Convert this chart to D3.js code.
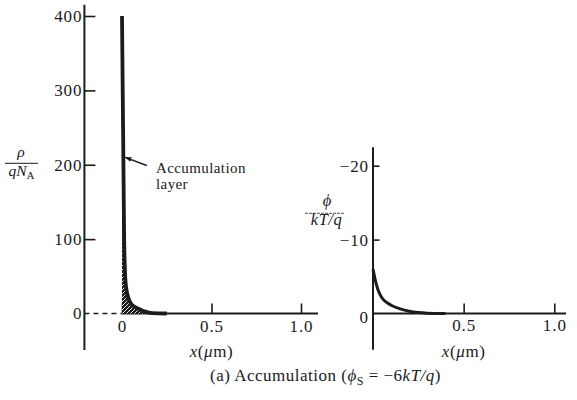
<!DOCTYPE html>
<html>
<head>
<meta charset="utf-8">
<script src="https://cdn.jsdelivr.net/npm/d3@7"></script>
<style>
  html, body { margin: 0; padding: 0; background: #fff; }
  svg { display: block; font-family: "Liberation Serif", "Times New Roman", serif; }
  .tick text { font-family: "Liberation Serif", "Times New Roman", serif; }
</style>
</head>
<body>
<svg id="chart" width="577" height="400"></svg>
<script>
// ---- data ----
// Left panel: normalized hole density p/(qN_A) vs depth x (µm)
const densityX = [0, 0.004, 0.008, 0.012, 0.016, 0.02, 0.025, 0.03, 0.04, 0.05, 0.07, 0.1, 0.13, 0.17, 0.25];
const densityY = [400, 300, 200, 100, 60, 42, 32, 26, 18, 13.5, 9, 5.5, 2.5, 0.5, 0];
// Right panel: normalized potential phi/(kT/q) vs depth x (µm)
const potentialX = [0, 0.01, 0.02, 0.03, 0.05, 0.075, 0.1, 0.15, 0.2, 0.25, 0.3, 0.4];
const potentialY = [-6, -4.8, -3.8, -3.05, -2.1, -1.5, -1.12, -0.62, -0.3, -0.13, -0.05, 0];
// tick values / labels
const leftYTicks = [0, 100, 200, 300, 400];
const leftXTicks = [0, 0.5, 1.0];
const leftXLabels = ["0", "0.5", "1.0"];
const rightYTicks = [0, -10, -20];
const rightXTicks = [0, 0.5, 1.0];
const rightXLabels = ["", "0.5", "1.0"];

const ink = "#1b1b1b";
const svg = d3.select("#chart");

// hatch pattern for the accumulation charge
const defs = svg.append("defs");
const pat = defs.append("pattern").attr("id", "hatch")
  .attr("patternUnits", "userSpaceOnUse").attr("width", 4).attr("height", 4);
pat.append("rect").attr("width", 4).attr("height", 4).attr("fill", ink);
pat.append("path").attr("d", "M-1,1 l2,-2 M0,4 l4,-4 M3,5 l2,-2")
  .attr("stroke", "#fff").attr("stroke-width", 0.9);
defs.append("marker").attr("id", "arrow").attr("viewBox", "0 0 10 10")
  .attr("refX", 9).attr("refY", 5).attr("markerWidth", 7).attr("markerHeight", 7)
  .attr("markerUnits", "userSpaceOnUse").attr("orient", "auto")
  .append("path").attr("d", "M0,1.5 L10,5 L0,8.5 Z").attr("fill", ink);

// ---- scales ----
const xL = d3.scaleLinear([0, 1], [122, 301]);
const yL = d3.scaleLinear([0, 400], [313.5, 16]);
const xR = d3.scaleLinear([0, 1], [373, 554.3]);
const yR = d3.scaleLinear([0, -20], [313.5, 165.7]);

const fmt = d3.format("");
const styleAxis = g => {
  g.select(".domain").remove();
  g.selectAll(".tick line").attr("stroke", ink).attr("stroke-width", 1.6);
  g.selectAll(".tick text").attr("fill", ink).attr("font-size", 17).attr("letter-spacing", 0.9);
};

// ---- LEFT PANEL ----
const L = svg.append("g");
// y axis
L.append("g").attr("transform", `translate(${xL(-0.21)},0)`)
  .call(d3.axisLeft(yL).tickValues(leftYTicks).tickSize(-11).tickPadding(2).tickFormat(fmt))
  .call(styleAxis)
  .call(g => g.selectAll(".tick").filter(d => d === 0).select("line").remove());
L.append("line").attr("x1", xL(-0.21)).attr("x2", xL(-0.21))
  .attr("y1", yL(415)).attr("y2", yL(-49)).attr("stroke", ink).attr("stroke-width", 2);
// x axis
L.append("g").attr("transform", `translate(0,${yL(0)})`)
  .call(d3.axisBottom(xL).tickValues(leftXTicks).tickSize(-10).tickPadding(6)
    .tickFormat((d, i) => leftXLabels[i]))
  .call(styleAxis);
L.append("line").attr("x1", xL(-0.21)).attr("x2", xL(0))
  .attr("y1", yL(0)).attr("y2", yL(0)).attr("stroke", ink).attr("stroke-width", 1.4)
  .attr("stroke-dasharray", "5,4");
L.append("line").attr("x1", xL(0)).attr("x2", xL(1.095))
  .attr("y1", yL(0)).attr("y2", yL(0)).attr("stroke", ink).attr("stroke-width", 2);

const densPts = densityX.map((x, i) => [x, densityY[i]]);
L.append("path").datum(densPts)
  .attr("d", d3.area().x(d => xL(d[0])).y0(yL(0)).y1(d => yL(d[1])).curve(d3.curveMonotoneX))
  .attr("fill", "url(#hatch)");
L.append("path").datum(densPts)
  .attr("d", d3.line().x(d => xL(d[0])).y(d => yL(d[1])).curve(d3.curveMonotoneX))
  .attr("fill", "none").attr("stroke", ink).attr("stroke-width", 3.8);

// annotation
L.append("line").attr("x1", xL(0.138)).attr("y1", yL(199)).attr("x2", xL(0.018)).attr("y2", yL(210))
  .attr("stroke", ink).attr("stroke-width", 1.4).attr("marker-end", "url(#arrow)");
const ann = L.append("text").attr("font-size", 15).attr("letter-spacing", 0.4).attr("fill", ink);
ann.append("tspan").attr("x", xL(0.19)).attr("y", 173).text("Accumulation");
ann.append("tspan").attr("x", xL(0.19)).attr("y", 189).text("layer");

// y label  rho / (q N_A)
const ylab = L.append("g").attr("fill", ink);
ylab.append("text").attr("x", 21).attr("y", 156.5).attr("text-anchor", "middle")
  .attr("font-size", 15.5).attr("font-style", "italic").text("ρ");
ylab.append("line").attr("x1", 5).attr("x2", 38).attr("y1", 163.3).attr("y2", 163.3)
  .attr("stroke", ink).attr("stroke-width", 1);
const qn = ylab.append("text").attr("x", 21.5).attr("y", 175.5).attr("text-anchor", "middle").attr("font-size", 15.5);
qn.append("tspan").attr("font-style", "italic").text("qN");
qn.append("tspan").attr("font-size", 11).attr("dy", 3.5).text("A");

// x label
const addXLabel = (g, x) => {
  const t = g.append("text").attr("x", x).attr("y", 357).attr("text-anchor", "middle")
    .attr("font-size", 17).attr("letter-spacing", 0.6).attr("fill", ink);
  t.append("tspan").attr("font-style", "italic").text("x");
  t.append("tspan").text("(");
  t.append("tspan").attr("font-style", "italic").text("μ");
  t.append("tspan").text("m)");
};
addXLabel(L, xL(0.5));

// ---- RIGHT PANEL ----
const R = svg.append("g");
R.append("g").attr("transform", `translate(${xR(0)},0)`)
  .call(d3.axisLeft(yR).tickValues(rightYTicks).tickSize(-6.5).tickPadding(4))
  .call(styleAxis)
  .call(g => g.selectAll(".tick").filter(d => d === 0).select("line").remove())
  .call(g => g.selectAll(".tick").filter(d => d === 0).select("text").attr("dy", "0.5em"));
R.append("line").attr("x1", xR(0)).attr("x2", xR(0))
  .attr("y1", yR(-22.5)).attr("y2", yR(4.9)).attr("stroke", ink).attr("stroke-width", 2);
R.append("g").attr("transform", `translate(0,${yR(0)})`)
  .call(d3.axisBottom(xR).tickValues(rightXTicks).tickSize(-10).tickPadding(5.5)
    .tickFormat((d, i) => rightXLabels[i]))
  .call(styleAxis)
  .call(g => g.selectAll(".tick").filter(d => d === 0).select("line").remove());
R.append("line").attr("x1", xR(0)).attr("x2", xR(1.065))
  .attr("y1", yR(0)).attr("y2", yR(0)).attr("stroke", ink).attr("stroke-width", 2);

const potPts = potentialX.map((x, i) => [x, potentialY[i]]);
R.append("path").datum(potPts)
  .attr("d", d3.line().x(d => xR(d[0])).y(d => yR(d[1])).curve(d3.curveMonotoneX))
  .attr("fill", "none").attr("stroke", ink).attr("stroke-width", 3);

// y label  phi / (kT/q)
const ylabR = R.append("g").attr("fill", ink);
ylabR.append("text").attr("x", 327).attr("y", 206).attr("text-anchor", "middle")
  .attr("font-size", 16.5).attr("font-style", "italic").text("ϕ");
ylabR.append("line").attr("x1", 305).attr("x2", 345).attr("y1", 213.3).attr("y2", 213.3)
  .attr("stroke", "#555").attr("stroke-width", 1).attr("stroke-dasharray", "3,1");
ylabR.append("text").attr("x", 326.5).attr("y", 224.5).attr("text-anchor", "middle")
  .attr("font-size", 16.5).attr("letter-spacing", 0.5).attr("font-style", "italic").text("kT/q");

addXLabel(R, xR(0.5));

// ---- caption ----
const cap = svg.append("text").attr("x", 210).attr("y", 381).attr("font-size", 17)
  .attr("letter-spacing", 0.5).attr("fill", ink);
cap.append("tspan").text("(a) Accumulation (");
cap.append("tspan").attr("font-style", "italic").text("ϕ");
cap.append("tspan").attr("font-size", 12).attr("dy", 4).text("S");
cap.append("tspan").attr("dy", -4).text(" = −6");
cap.append("tspan").attr("font-style", "italic").text("kT/q");
cap.append("tspan").text(")");
</script>
</body>
</html>
